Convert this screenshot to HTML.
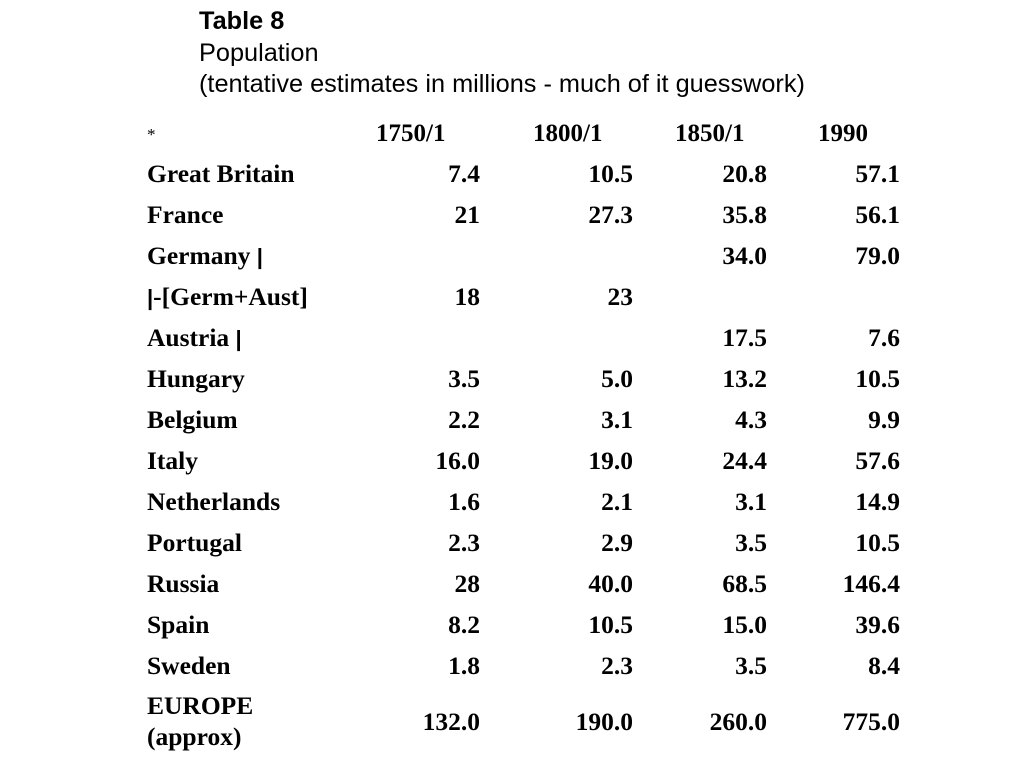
<!DOCTYPE html>
<html><head><meta charset="utf-8"><style>
html,body{margin:0;padding:0;background:#fff;width:1024px;height:768px;overflow:hidden}
svg text{fill:#000}
.t{font-family:"Liberation Sans",sans-serif;font-size:25.3px}
.s{font-family:"Liberation Serif",serif;font-weight:bold;font-size:25.5px}
.h{font-family:"Liberation Serif",serif;font-weight:bold;font-size:25px}
.r{text-anchor:end}
</style></head><body>
<svg width="1024" height="768" xmlns="http://www.w3.org/2000/svg">
<text class="t" x="199" y="29" font-weight="bold">Table 8</text>
<text class="t" x="199" y="61">Population</text>
<text class="t" x="199" y="92">(tentative estimates in millions - much of it guesswork)</text>
<text x="147" y="140" font-family="Liberation Serif,serif" font-size="17">*</text>
<text class="h" x="376" y="141">1750/1</text>
<text class="h" x="533" y="141">1800/1</text>
<text class="h" x="675" y="141">1850/1</text>
<text class="h" x="818" y="141">1990</text>
<g class="s">
<text x="147" y="182">Great Britain</text>
<text x="480" y="182" class="s r">7.4</text><text x="633" y="182" class="s r">10.5</text><text x="767" y="182" class="s r">20.8</text><text x="900" y="182" class="s r">57.1</text>
<text x="147" y="223">France</text>
<text x="480" y="223" class="s r">21</text><text x="633" y="223" class="s r">27.3</text><text x="767" y="223" class="s r">35.8</text><text x="900" y="223" class="s r">56.1</text>
<text x="147" y="264">Germany <tspan font-family="Liberation Sans,sans-serif" font-size="22">|</tspan></text>
<text x="767" y="264" class="s r">34.0</text><text x="900" y="264" class="s r">79.0</text>
<text x="147" y="305"><tspan font-family="Liberation Sans,sans-serif" font-size="22">|</tspan>-[Germ+Aust]</text>
<text x="480" y="305" class="s r">18</text><text x="633" y="305" class="s r">23</text>
<text x="147" y="346">Austria <tspan font-family="Liberation Sans,sans-serif" font-size="22">|</tspan></text>
<text x="767" y="346" class="s r">17.5</text><text x="900" y="346" class="s r">7.6</text>
<text x="147" y="387">Hungary</text>
<text x="480" y="387" class="s r">3.5</text><text x="633" y="387" class="s r">5.0</text><text x="767" y="387" class="s r">13.2</text><text x="900" y="387" class="s r">10.5</text>
<text x="147" y="428">Belgium</text>
<text x="480" y="428" class="s r">2.2</text><text x="633" y="428" class="s r">3.1</text><text x="767" y="428" class="s r">4.3</text><text x="900" y="428" class="s r">9.9</text>
<text x="147" y="469">Italy</text>
<text x="480" y="469" class="s r">16.0</text><text x="633" y="469" class="s r">19.0</text><text x="767" y="469" class="s r">24.4</text><text x="900" y="469" class="s r">57.6</text>
<text x="147" y="510">Netherlands</text>
<text x="480" y="510" class="s r">1.6</text><text x="633" y="510" class="s r">2.1</text><text x="767" y="510" class="s r">3.1</text><text x="900" y="510" class="s r">14.9</text>
<text x="147" y="551">Portugal</text>
<text x="480" y="551" class="s r">2.3</text><text x="633" y="551" class="s r">2.9</text><text x="767" y="551" class="s r">3.5</text><text x="900" y="551" class="s r">10.5</text>
<text x="147" y="592">Russia</text>
<text x="480" y="592" class="s r">28</text><text x="633" y="592" class="s r">40.0</text><text x="767" y="592" class="s r">68.5</text><text x="900" y="592" class="s r">146.4</text>
<text x="147" y="633">Spain</text>
<text x="480" y="633" class="s r">8.2</text><text x="633" y="633" class="s r">10.5</text><text x="767" y="633" class="s r">15.0</text><text x="900" y="633" class="s r">39.6</text>
<text x="147" y="674">Sweden</text>
<text x="480" y="674" class="s r">1.8</text><text x="633" y="674" class="s r">2.3</text><text x="767" y="674" class="s r">3.5</text><text x="900" y="674" class="s r">8.4</text>
<text x="147" y="714">EUROPE</text>
<text x="147" y="745">(approx)</text>
<text x="480" y="730" class="s r">132.0</text><text x="633" y="730" class="s r">190.0</text><text x="767" y="730" class="s r">260.0</text><text x="900" y="730" class="s r">775.0</text>
</g>
</svg>
</body></html>
